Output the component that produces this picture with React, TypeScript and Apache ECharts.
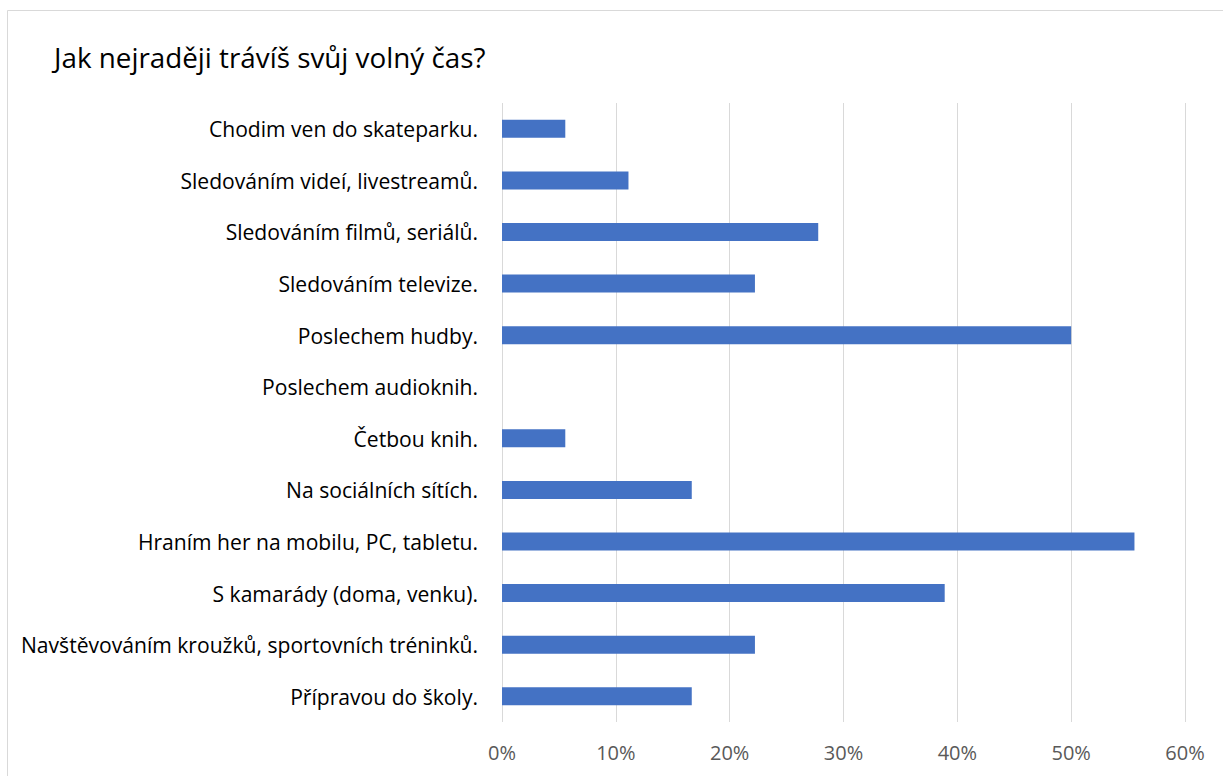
import React, { useEffect, useRef } from "react";
import * as echarts from "echarts";

const categories = [
  "Chodim ven do skateparku.",
  "Sledováním videí, livestreamů.",
  "Sledováním filmů, seriálů.",
  "Sledováním televize.",
  "Poslechem hudby.",
  "Poslechem audioknih.",
  "Četbou knih.",
  "Na sociálních sítích.",
  "Hraním her na mobilu, PC, tabletu.",
  "S kamarády (doma, venku).",
  "Navštěvováním kroužků, sportovních tréninků.",
  "Přípravou do školy.",
];
const values = [
  0.0556, 0.1111, 0.2778, 0.2222, 0.5, 0, 0.0556, 0.1667, 0.5556, 0.3889, 0.2222, 0.1667,
];
const title = "Jak nejraději trávíš svůj volný čas?";

const FONT = "'Open Sans', 'Noto Sans', sans-serif";

export default function App() {
  const ref = useRef<HTMLDivElement>(null);
  useEffect(() => {
    document.body.style.margin = "0";
    const chart = echarts.init(ref.current!, null, { renderer: "svg" });
    chart.setOption({
      animation: false,
      backgroundColor: "#ffffff",
      title: {
        text: title,
        left: 49,
        top: 38,
        textStyle: { fontFamily: FONT, fontSize: 27.8, fontWeight: "normal", color: "#000000" },
      },
      graphic: [
        {
          type: "rect",
          shape: { x: 7.5, y: 10.5, width: 1300, height: 900 },
          style: { fill: "none", stroke: "#D9D9D9", lineWidth: 1 },
          silent: true,
        },
      ],
      grid: { left: 502, right: 38, top: 103, bottom: 54, containLabel: false },
      xAxis: {
        type: "value",
        min: 0,
        max: 0.6,
        interval: 0.1,
        axisLine: { show: false },
        axisTick: { show: false },
        splitLine: { show: true, lineStyle: { color: "#D9D9D9", width: 1 } },
        axisLabel: {
          formatter: (v: number) => Math.round(v * 100) + "%",
          fontFamily: FONT,
          fontSize: 20,
          color: "#595959",
          margin: 20,
        },
      },
      yAxis: {
        type: "category",
        data: categories,
        inverse: true,
        axisLine: { show: false },
        axisTick: { show: false },
        splitLine: { show: false },
        axisLabel: { fontFamily: FONT, fontSize: 21.1, color: "#000000", margin: 24 },
      },
      series: [
        {
          type: "bar",
          data: values,
          barWidth: 18,
          itemStyle: { color: "#4472C4" },
        },
      ],
    });
    return () => chart.dispose();
  }, []);
  return <div ref={ref} style={{ width: 1223, height: 776 }} />;
}
